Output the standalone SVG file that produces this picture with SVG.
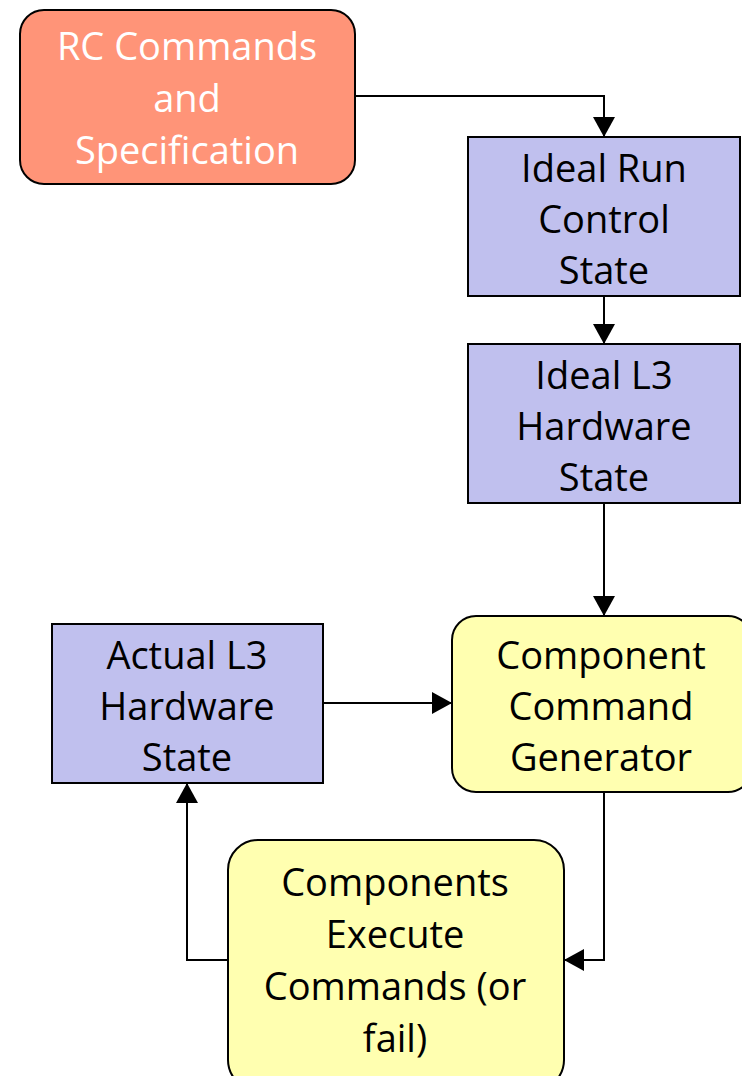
<svg xmlns="http://www.w3.org/2000/svg" width="742" height="1076" viewBox="0 0 742 1076">
<defs>
<marker id="arr" markerWidth="20" markerHeight="22" refX="19" refY="11" orient="auto" markerUnits="userSpaceOnUse">
<path d="M0,0 L20,11 L0,22 Z" fill="#000"/>
</marker>
<style>
.t{font-family:"Comic Sans MS","Open Sans","DejaVu Sans",sans-serif;font-size:38px;text-anchor:middle}
.blue{fill:#C0C0EE;stroke:#000;stroke-width:2}
.yel{fill:#FFFFB0;stroke:#000;stroke-width:2}
.red{fill:#FF9478;stroke:#000;stroke-width:2}
.c{fill:none;stroke:#000;stroke-width:2}
</style>
</defs>
<rect width="742" height="1076" fill="#fff"/>
<g id="connectors">
<path class="c" d="M355,96 H604 V136" marker-end="url(#arr)"/>
<path class="c" d="M604,296 V343" marker-end="url(#arr)"/>
<path class="c" d="M604,503 V615" marker-end="url(#arr)"/>
<path class="c" d="M323,703 H451" marker-end="url(#arr)"/>
<path class="c" d="M604,792 V960 H565" marker-end="url(#arr)"/>
<path class="c" d="M228,960 H187 V784" marker-end="url(#arr)"/>
</g>
<g id="rc">
<rect class="red" x="20" y="10" width="335" height="174" rx="24"/>
<text class="t" fill="#fff" x="187" y="60">RC Commands</text>
<text class="t" fill="#fff" x="187" y="112">and</text>
<text class="t" fill="#fff" x="187" y="164">Specification</text>
</g>
<g id="ideal-rc">
<rect class="blue" x="468" y="137" width="272" height="159"/>
<text class="t" x="604" y="182">Ideal Run</text>
<text class="t" x="604" y="233">Control</text>
<text class="t" x="604" y="284">State</text>
</g>
<g id="ideal-l3">
<rect class="blue" x="468" y="344" width="272" height="159"/>
<text class="t" x="604" y="389">Ideal L3</text>
<text class="t" x="604" y="440">Hardware</text>
<text class="t" x="604" y="491">State</text>
</g>
<g id="ccg">
<rect class="yel" x="452" y="616" width="300" height="176" rx="24"/>
<text class="t" x="601" y="669">Component</text>
<text class="t" x="601" y="720">Command</text>
<text class="t" x="601" y="771">Generator</text>
</g>
<g id="actual-l3">
<rect class="blue" x="52" y="624" width="271" height="159"/>
<text class="t" x="187" y="669">Actual L3</text>
<text class="t" x="187" y="720">Hardware</text>
<text class="t" x="187" y="771">State</text>
</g>
<g id="exec">
<rect class="yel" x="228" y="840" width="336" height="250" rx="30"/>
<text class="t" x="395" y="896">Components</text>
<text class="t" x="395" y="948">Execute</text>
<text class="t" x="395" y="1000">Commands (or</text>
<text class="t" x="395" y="1052">fail)</text>
</g>
</svg>
